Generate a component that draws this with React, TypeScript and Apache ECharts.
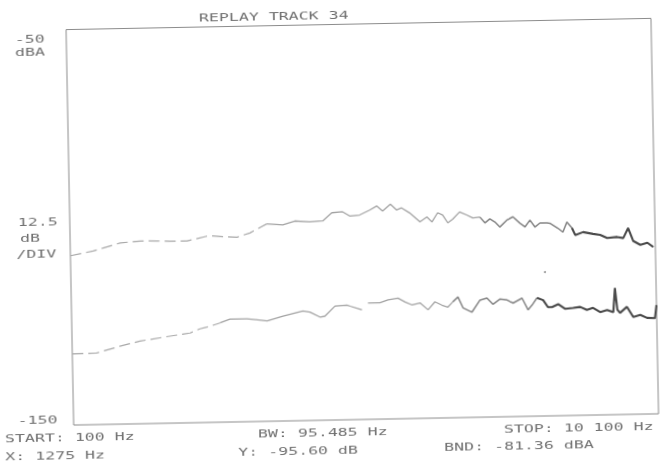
import React, { useEffect, useRef } from "react";
import * as echarts from "echarts";

// ---- data (frequency in Hz, level in dBA) ----
const upperFreq = [100, 490, 660, 955, 1300, 1590, 1810, 2100, 2440, 2545, 2785, 2955, 3175, 3465, 3740, 3945, 4200, 4425, 4580, 4765, 4885, 5055, 5230, 5350, 5450, 5585, 5690, 5775, 5910, 6085, 6205, 6290, 6390, 6475, 6560, 6645, 6765, 6885, 6990, 7110, 7195, 7280, 7365, 7450, 7570, 7675, 7790, 7880, 7965, 8050, 8135, 8255, 8305, 8440, 8525, 8595, 8680, 8735, 8870, 9040, 9160, 9280, 9450, 9555, 9640, 9725, 9845, 9965, 10065];
const upperDb = [-107.2, -106.1, -105.4, -104.2, -103.8, -103.9, -104.0, -104.0, -102.9, -102.9, -103.2, -103.3, -102.3, -100.1, -100.4, -99.5, -99.8, -99.6, -97.6, -97.4, -98.5, -98.3, -97.1, -96.1, -97.4, -95.7, -97.2, -96.7, -98.0, -100.3, -99.1, -100.4, -98.1, -98.7, -100.7, -99.8, -98.0, -98.8, -99.6, -99.4, -100.9, -99.9, -100.7, -102.0, -100.3, -99.5, -101.1, -102.1, -100.4, -102.2, -101.2, -101.2, -101.3, -102.6, -103.6, -101.1, -102.6, -104.4, -103.7, -104.2, -104.5, -105.3, -105.1, -105.4, -102.9, -106.2, -107.2, -106.7, -107.8];

const lowerFreq = [100, 520, 915, 1260, 1775, 2120, 2290, 2410, 2635, 2805, 3095, 3440, 3715, 4055, 4175, 4345, 4430, 4605, 4810, 4865, 5065, 5120, 5170, 5375, 5515, 5685, 5805, 5925, 6060, 6195, 6315, 6435, 6535, 6620, 6710, 6795, 6945, 7085, 7205, 7305, 7430, 7550, 7650, 7805, 7905, 7975, 8060, 8165, 8245, 8315, 8420, 8535, 8675, 8795, 8910, 9015, 9135, 9255, 9360, 9395, 9430, 9475, 9595, 9700, 9820, 9935, 10070, 10100];
const lowerDb: (number | null)[] = [-132.0, -131.9, -130.3, -129.1, -128.0, -127.3, -126.3, -125.9, -124.9, -124.0, -124.0, -124.6, -123.5, -122.3, -122.6, -123.9, -123.7, -121.2, -121.0, -121.3, -122.3, null, -120.6, -120.6, -119.9, -119.5, -120.5, -121.3, -120.8, -122.6, -120.6, -121.5, -122.0, -120.7, -119.5, -122.3, -123.4, -120.4, -119.9, -121.5, -120.2, -120.5, -121.3, -120.1, -123.1, -121.9, -120.1, -120.7, -122.5, -122.5, -121.8, -123.0, -122.8, -122.6, -123.4, -122.9, -124.0, -123.5, -124.1, -118.0, -123.5, -124.3, -122.8, -125.4, -124.9, -125.7, -125.8, -122.5];

const strayFreq = [8205];
const strayDb = [-113.6];

// axis range
const freqStart = 100;
const freqStop = 10100;
const dbTop = -50;
const dbBottom = -150;

// texts of the plotter
const titleText = "REPLAY TRACK 34";
const topLabel = ["-50", "dBA"];
const scaleLabel = ["12.5", "dB", "/DIV"];
const bottomLabel = "-150";
const startText = "START: 100 Hz";
const markerXText = "X: 1275 Hz";
const bwText = "BW: 95.485 Hz";
const markerYText = "Y: -95.60 dB";
const stopText = "STOP: 10 100 Hz";
const bandText = "BND: -81.36 dBA";

function segment(freqs: number[], dbs: (number | null)[], from: number, to: number) {
  const out: any[] = [];
  for (let i = 0; i < freqs.length; i++) {
    if (freqs[i] >= from && freqs[i] <= to) out.push([freqs[i], dbs[i]]);
  }
  return out;
}

const FONT = "DejaVu Sans Mono";
const TXT = "#707070";

function label(text: string, x: number, y: number) {
  return {
    type: "text",
    x,
    y,
    scaleX: 1.58,
    scaleY: 1,
    silent: true,
    style: {
      text,
      fill: TXT,
      font: `10.5px '${FONT}'`,
      textAlign: "left",
      textVerticalAlign: "middle",
    },
  };
}

export default function App() {
  const ref = useRef<HTMLDivElement>(null);
  useEffect(() => {
    document.body.style.overflow = "hidden";
    const chart = echarts.init(ref.current!, undefined, { renderer: "svg" });
    const lineSeries = (data: any[], color: string, width: number, dashed = false) => ({
      type: "line",
      data,
      showSymbol: false,
      symbol: "none",
      connectNulls: false,
      smooth: false,
      lineStyle: { color, width, type: dashed ? [11, 5] : "solid" },
      silent: true,
    });
    chart.setOption({
      animation: false,
      backgroundColor: "transparent",
      grid: {
        left: 70,
        right: 13,
        top: 24.5,
        bottom: 43,
        show: true,
        borderColor: "#8c8c8c",
        borderWidth: 1,
      },
      xAxis: {
        type: "value",
        min: freqStart,
        max: freqStop,
        axisLine: { show: false },
        axisTick: { show: false },
        axisLabel: { show: false },
        splitLine: { show: false },
      },
      yAxis: {
        type: "value",
        min: dbBottom,
        max: dbTop,
        axisLine: { show: false },
        axisTick: { show: false },
        axisLabel: { show: false },
        splitLine: { show: false },
      },
      series: [
        lineSeries(segment(upperFreq, upperDb, 0, 3465), "#a8a8a8", 1.2, true),
        lineSeries(segment(upperFreq, upperDb, 3465, 7110), "#a3a3a3", 1.3),
        lineSeries(segment(upperFreq, upperDb, 7110, 8680), "#858585", 1.5),
        lineSeries(segment(upperFreq, upperDb, 8680, 20000), "#4a4a4a", 2.1),
        lineSeries(segment(lowerFreq, lowerDb, 0, 2635), "#a8a8a8", 1.2, true),
        lineSeries(segment(lowerFreq, lowerDb, 2635, 6620), "#a3a3a3", 1.3),
        lineSeries(segment(lowerFreq, lowerDb, 6620, 8060), "#858585", 1.5),
        lineSeries(segment(lowerFreq, lowerDb, 8060, 20000), "#4a4a4a", 2.1),
        {
          type: "scatter",
          data: strayFreq.map((f, i) => [f, strayDb[i]]),
          symbolSize: 2,
          itemStyle: { color: "#777" },
          silent: true,
        },
      ],
      graphic: [
        label(titleText, 203, 14.8),
        label(topLabel[0], 18.5, 33.6),
        label(topLabel[1], 18.5, 46),
        label(scaleLabel[0], 18, 216),
        label(scaleLabel[1], 20, 232),
        label(scaleLabel[2], 16, 248),
        label(bottomLabel, 14, 414),
        label(startText, 1, 432.5),
        label(markerXText, 1, 450.5),
        label(bwText, 254, 432.5),
        label(markerYText, 234, 450.5),
        label(stopText, 500, 432),
        label(bandText, 440, 449),
      ],
    });
    return () => chart.dispose();
  }, []);
  return (
    <div
      ref={ref}
      style={{
        position: "fixed",
        left: 0,
        top: 0,
        width: 668,
        height: 463,
        transform: "rotate(-1.1deg)",
        transformOrigin: "334px 231.5px",
        background: "#fff",
      }}
    />
  );
}
